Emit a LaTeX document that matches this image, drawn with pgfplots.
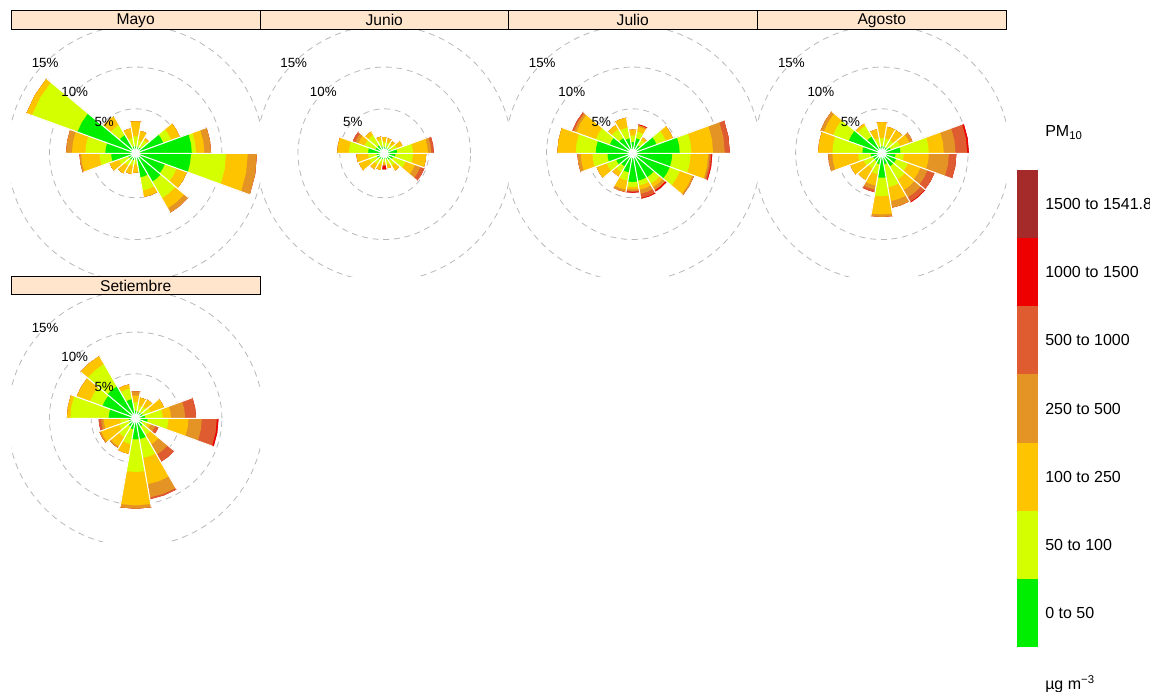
\documentclass[border=0pt]{standalone}
\usepackage{pgfplots}
\usepackage{pgfplotstable}
\pgfplotsset{compat=1.18}
\usepackage{fontspec}
\setmainfont{Liberation Sans}

\definecolor{cA}{RGB}{0,238,0}
\definecolor{cB}{RGB}{212,255,0}
\definecolor{cC}{RGB}{255,196,0}
\definecolor{cD}{RGB}{228,148,36}
\definecolor{cE}{RGB}{222,92,48}
\definecolor{cF}{RGB}{238,0,0}
\definecolor{cG}{RGB}{165,42,42}
\definecolor{stripbg}{HTML}{FFE5CC}
\definecolor{gridc}{RGB}{185,185,185}

% cumulative percentage (radius) at the top of each PM10 class, by wind sector
\pgfplotstableread{
d c1 c2 c3 c4 c5 c6 c7
0 0.5 1.7 3.5 3.5 3.5 3.5 3.5
20 0.4 1.2 2.4 2.4 2.4 2.4 2.4
40 0.5 1.5 1.8 1.8 1.8 1.8 1.8
60 3.2 4.2 5.3 5.3 5.3 5.3 5.3
80 6.4 6.9 7.9 8.7 8.7 8.7 8.7
100 6.3 10.5 13.1 14.2 14.2 14.2 14.2
120 3.4 4.9 6.2 6.2 6.2 6.2 6.2
140 3.6 5.9 7.3 7.9 7.9 7.9 7.9
160 2.6 4.2 5.0 5.0 5.0 5.0 5.0
180 0.4 1.0 2.0 2.0 2.0 2.0 2.0
200 0.5 1.2 2.2 2.2 2.2 2.2 2.2
220 0.6 1.4 2.5 2.5 2.5 2.5 2.5
240 0.6 1.8 3.0 3.0 3.0 3.0 3.0
260 2.6 4.0 6.2 6.4 6.4 6.4 6.4
280 3.3 5.7 7.3 8.0 8.0 8.0 8.0
300 7.1 12.9 13.6 13.6 13.6 13.6 13.6
320 2.2 3.6 4.8 4.8 4.8 4.8 4.8
340 0.5 1.5 2.7 2.7 2.7 2.7 2.7
}\tMayo

\pgfplotstableread{
d c1 c2 c3 c4 c5 c6 c7
0 0.4 1.0 1.6 1.6 1.6 1.6 1.6
20 0.4 1.0 1.5 1.5 1.5 1.5 1.5
40 0.4 0.9 1.4 1.4 1.4 1.4 1.4
60 0.5 1.3 2.0 2.0 2.0 2.0 2.0
80 1.2 3.1 4.9 5.3 5.6 5.6 5.6
100 1.0 3.1 4.7 4.7 4.7 4.7 4.7
120 0.8 2.4 3.6 4.3 4.8 4.8 4.8
140 0.6 1.4 2.1 2.1 2.1 2.1 2.1
160 0.4 1.0 1.5 1.5 1.5 1.5 1.5
180 0.3 0.7 1.0 1.1 1.2 1.6 1.6
200 0.4 1.0 1.7 1.7 1.7 1.7 1.7
220 0.5 1.2 1.9 1.9 1.9 1.9 1.9
240 0.6 1.6 2.9 2.9 2.9 2.9 2.9
260 0.6 1.6 3.0 3.0 3.0 3.0 3.0
280 1.6 3.9 5.3 5.3 5.3 5.3 5.3
300 0.8 2.2 3.0 3.4 3.7 3.7 3.7
320 0.8 2.2 2.7 2.7 2.7 2.7 2.7
340 0.5 1.3 1.7 1.7 1.7 1.7 1.7
}\tJunio

\pgfplotstableread{
d c1 c2 c3 c4 c5 c6 c7
0 1.0 1.8 2.5 2.5 2.5 2.5 2.5
20 1.5 2.3 2.9 3.1 3.1 3.2 3.2
40 0.8 1.5 1.9 1.9 1.9 1.9 1.9
60 2.7 3.9 4.8 4.8 4.8 4.8 4.8
80 5.3 6.7 9.3 10.7 11.3 11.3 11.3
100 4.4 6.6 8.7 8.9 9.1 9.2 9.2
120 4.4 5.7 7.3 7.5 7.5 7.5 7.5
140 3.0 3.9 4.4 4.8 4.8 5.0 5.0
160 3.0 3.6 4.1 4.6 5.1 5.2 5.2
180 3.1 3.7 4.0 4.2 4.3 4.4 4.4
200 2.0 3.0 4.1 4.4 4.4 4.4 4.4
220 1.5 2.3 2.9 2.9 2.9 2.9 2.9
240 1.8 3.0 4.3 4.3 4.3 4.3 4.3
260 2.7 4.5 5.9 6.3 6.3 6.3 6.3
280 4.1 6.5 8.7 8.7 8.7 8.7 8.7
300 2.6 4.4 6.9 7.2 7.4 7.4 7.4
320 1.8 3.0 3.6 3.6 3.6 3.6 3.6
340 1.5 2.8 4.0 4.0 4.0 4.0 4.0
}\tJulio

\pgfplotstableread{
d c1 c2 c3 c4 c5 c6 c7
0 0.5 1.5 3.4 3.4 3.4 3.4 3.4
20 0.5 1.5 2.9 2.9 2.9 2.9 2.9
40 0.5 1.5 2.9 2.9 2.9 2.9 2.9
60 0.8 2.0 3.2 3.6 3.6 3.6 3.6
80 1.9 5.3 7.1 8.5 9.9 10.1 10.1
100 1.3 2.3 5.3 7.7 8.6 8.6 8.6
120 1.5 3.0 4.6 5.5 6.4 6.4 6.4
140 1.5 3.3 4.8 5.8 6.4 6.5 6.5
160 1.0 3.8 5.5 6.3 6.3 6.3 6.3
180 2.6 4.8 7.0 7.3 7.3 7.3 7.3
200 1.0 2.2 3.6 4.1 4.4 4.4 4.4
220 0.8 1.8 3.4 3.4 3.4 3.4 3.4
240 0.8 2.0 3.7 3.7 3.7 3.7 3.7
260 1.0 2.5 5.6 6.1 6.1 6.1 6.1
280 2.0 5.6 7.3 7.3 7.3 7.3 7.3
300 3.9 5.9 7.1 7.5 7.5 7.5 7.5
320 2.0 3.5 3.8 3.8 3.8 3.8 3.8
340 0.5 1.5 2.6 2.6 2.6 2.6 2.6
}\tAgosto

\pgfplotstableread{
d c1 c2 c3 c4 c5 c6 c7
0 0.6 1.6 2.4 2.9 2.9 2.9 2.9
20 0.5 1.2 2.2 2.2 2.2 2.2 2.2
40 0.5 1.3 2.3 2.3 2.3 2.3 2.3
60 0.6 1.6 3.3 3.3 3.3 3.3 3.3
80 0.8 2.9 3.9 5.6 6.9 6.9 6.9
100 1.1 3.6 6.0 7.6 9.4 9.6 9.6
120 0.5 1.2 1.6 2.2 2.6 2.6 2.6
140 0.8 2.0 3.3 4.7 5.7 5.7 5.7
160 2.2 4.5 7.7 9.3 9.5 9.5 9.5
180 2.2 6.1 10.1 10.5 10.5 10.5 10.5
200 1.0 2.8 4.0 4.0 4.0 4.0 4.0
220 0.8 2.3 3.6 3.8 3.8 3.8 3.8
240 0.5 1.8 4.1 4.3 4.3 4.3 4.3
260 0.5 1.5 3.5 3.8 4.1 4.1 4.1
280 2.9 7.5 7.9 7.9 7.9 7.9 7.9
300 3.9 5.5 7.2 7.2 7.2 7.2 7.2
320 4.1 7.2 8.3 8.3 8.3 8.3 8.3
340 2.0 3.3 3.8 3.8 3.8 3.8 3.8
}\tSetiembre

\def\off{0.33}

\newcommand\buildpoly[2]{%
  \gdef\polycoords{}%
  \pgfplotsforeachungrouped \ii in {0,...,17}{%
    \pgfplotstablegetelem{\ii}{d}\of#1\let\Dd\pgfplotsretval
    \pgfplotstablegetelem{\ii}{#2}\of#1\let\Rr\pgfplotsretval
    \pgfmathsetmacro\Ac{90-\Dd}%
    \pgfmathsetmacro\Ap{\Ac+10}%
    \pgfmathsetmacro\Am{\Ac-10}%
    \pgfmathsetmacro\RR{\Rr+\off}%
    \xdef\polycoords{\polycoords(\Ap,0)(\Ap,\RR)(\Ac,\RR)(\Am,\RR)(\Am,0)}%
  }%
}
\newcommand\buildsep[1]{%
  \gdef\sepcoords{}%
  \pgfplotsforeachungrouped \ii in {0,...,17}{%
    \pgfmathtruncatemacro\jj{mod(\ii+1,18)}%
    \pgfplotstablegetelem{\ii}{d}\of#1\let\Dd\pgfplotsretval
    \pgfplotstablegetelem{\ii}{c7}\of#1\let\Ra\pgfplotsretval
    \pgfplotstablegetelem{\jj}{c7}\of#1\let\Rb\pgfplotsretval
    \pgfmathsetmacro\Ab{80-\Dd}%
    \pgfmathsetmacro\RR{max(\Ra,\Rb)+\off}%
    \xdef\sepcoords{\sepcoords(0,0)(\Ab,\RR)(0,0)}%
  }%
}
\newcommand\drawlevel[3]{%
  \buildpoly{#1}{#2}%
  \edef\tmp{\noexpand\addplot[fill=#3, draw=none, data cs=polar, forget plot] coordinates {\polycoords};}%
  \tmp
}
\newcommand\rosepanel[3]{%
\begin{axis}[at={(#2,#3)}, anchor=center, scale only axis,
  width=186.6pt, height=184.95pt,
  xmin=-14.9, xmax=14.9, ymin=-14.77, ymax=14.77,
  hide axis, clip=true]
\draw[gridc, dash pattern=on 4.5pt off 3.5pt, line width=0.6pt] (axis cs:0,0) circle[radius=5.33];
\draw[gridc, dash pattern=on 4.5pt off 3.5pt, line width=0.6pt] (axis cs:0,0) circle[radius=10.33];
\draw[gridc, dash pattern=on 4.5pt off 3.5pt, line width=0.6pt] (axis cs:0,0) circle[radius=15.33];
\drawlevel{#1}{c7}{cG}
\drawlevel{#1}{c6}{cF}
\drawlevel{#1}{c5}{cE}
\drawlevel{#1}{c4}{cD}
\drawlevel{#1}{c3}{cC}
\drawlevel{#1}{c2}{cB}
\drawlevel{#1}{c1}{cA}
\buildsep{#1}%
\edef\tmp{\noexpand\addplot[white, line width=0.8pt, line join=bevel, data cs=polar, forget plot] coordinates {\sepcoords};}\tmp
\fill[white] (axis cs:0,0) circle[radius=\off];
\node[font=\fontsize{10}{12}\selectfont] at (axis cs:-3.77,3.77) {5\%};
\node[font=\fontsize{10}{12}\selectfont] at (axis cs:-7.30,7.30) {10\%};
\node[font=\fontsize{10}{12}\selectfont] at (axis cs:-10.84,10.84) {15\%};
\end{axis}}

\newcommand\strip[5]{% x1 x2 ytop ybot text
  \draw[fill=stripbg, line width=0.75pt] (#1,#3) rectangle (#2,#4);
  \node[font=\fontsize{11.7}{14}\selectfont] at ({(#1+#2)/2},{(#3+#4)/2}) {#5};
}

\begin{document}
\begin{tikzpicture}[x=0.75pt,y=0.75pt]
\useasboundingbox (0,0) rectangle (1150,692);
\clip (0,0) rectangle (1150,692);
\fill[white] (0,0) rectangle (1150,692);

\rosepanel{\tMayo}{101.74pt}{404.03pt}
\rosepanel{\tJunio}{288.19pt}{404.03pt}
\rosepanel{\tJulio}{474.56pt}{404.03pt}
\rosepanel{\tAgosto}{661.39pt}{404.03pt}
\rosepanel{\tSetiembre}{101.74pt}{205.28pt}

\strip{11.3}{260}{681.3}{662}{Mayo}
\strip{260}{508.5}{681.3}{662}{Junio}
\strip{508.5}{757}{681.3}{662}{Julio}
\strip{757}{1006.7}{681.3}{662}{Agosto}
\strip{11.3}{260}{415.3}{397}{Setiembre}

% colour key
\fill[cG] (1016.7,522) rectangle (1037.7,453.86);
\fill[cF] (1016.7,453.86) rectangle (1037.7,385.7);
\fill[cE] (1016.7,385.7) rectangle (1037.7,317.6);
\fill[cD] (1016.7,317.6) rectangle (1037.7,249.4);
\fill[cC] (1016.7,249.4) rectangle (1037.7,181.3);
\fill[cB] (1016.7,181.3) rectangle (1037.7,113.1);
\fill[cA] (1016.7,113.1) rectangle (1037.7,45);
\begin{scope}[every node/.style={anchor=west, inner sep=0pt, font=\fontsize{12}{14}\selectfont}]
\node at (1045,487.9) {1500 to 1541.8};
\node at (1045,419.8) {1000 to 1500};
\node at (1045,351.6) {500 to 1000};
\node at (1045,283.5) {250 to 500};
\node at (1045,215.3) {100 to 250};
\node at (1045,147.2) {50 to 100};
\node at (1045,79.0) {0 to 50};
\node at (1045,559) {PM\raisebox{-0.35ex}{\fontsize{8.5}{10}\selectfont 10}};
\node at (1045,8) {µg m\raisebox{0.7ex}{\fontsize{8.5}{10}\selectfont −3}};
\end{scope}
\end{tikzpicture}
\end{document}
